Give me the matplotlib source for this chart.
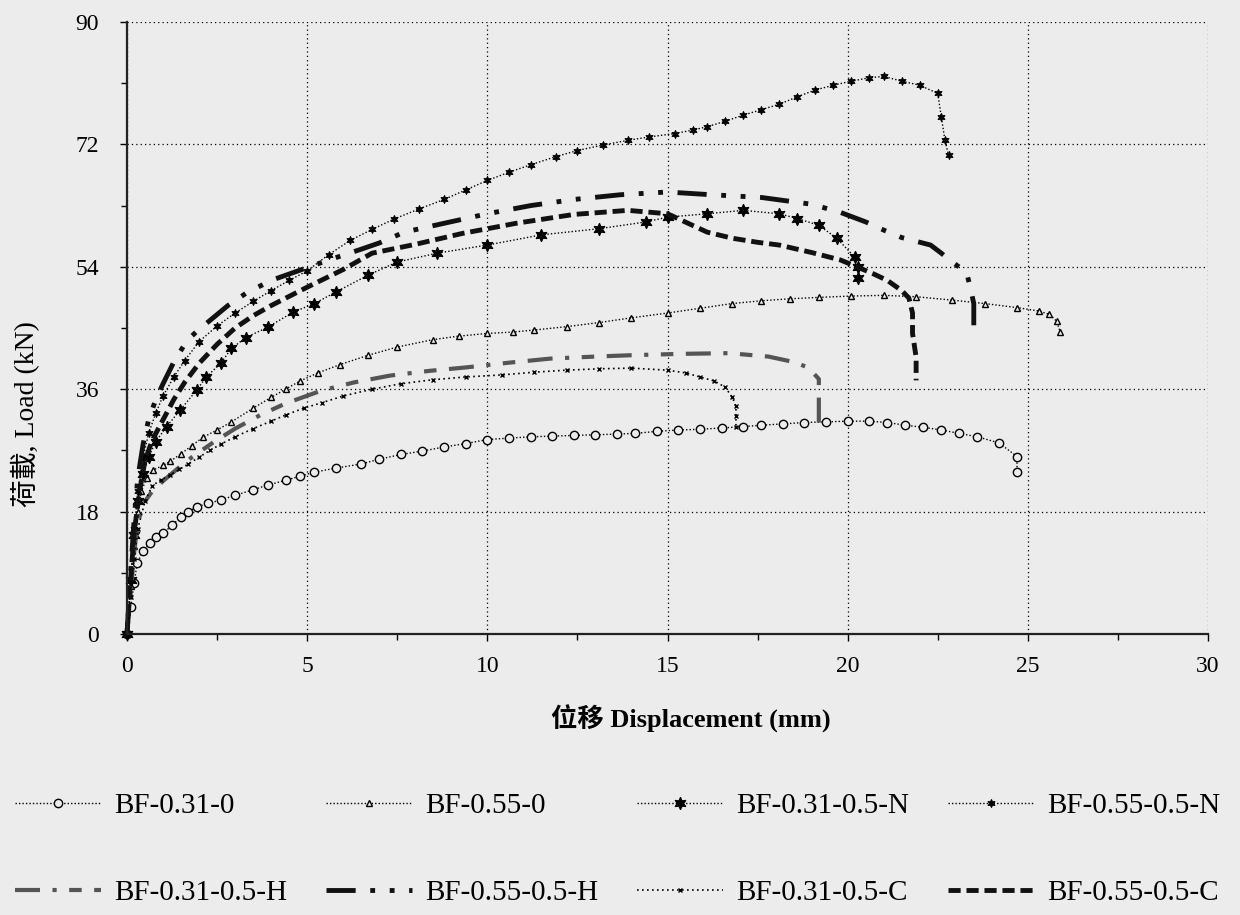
import matplotlib
matplotlib.use("Agg")
import matplotlib.pyplot as plt
from matplotlib.ticker import MultipleLocator

# ---------------- data ----------------
x_031_0 = [0, 0.1, 0.2, 0.28, 0.45, 0.64, 0.8, 1.0, 1.25, 1.5, 1.7, 1.94, 2.25, 2.6, 3.0, 3.5, 3.9, 4.4, 4.8,
           5.2, 5.8, 6.5, 7.0, 7.6, 8.2, 8.8, 9.4, 10.0, 10.6, 11.2, 11.8, 12.4, 13.0, 13.6, 14.1, 14.7, 15.3,
           15.9, 16.5, 17.1, 17.6, 18.2, 18.8, 19.4, 20.0, 20.6, 21.1, 21.6, 22.1, 22.6, 23.1, 23.6, 24.2, 24.7, 24.7]
y_031_0 = [0, 4, 7.5, 10.4, 12.2, 13.4, 14.2, 14.8, 16.0, 17.2, 18.0, 18.7, 19.2, 19.7, 20.4, 21.2, 21.9, 22.6, 23.2,
           23.8, 24.4, 25.0, 25.7, 26.4, 26.9, 27.5, 28.0, 28.6, 28.8, 29.0, 29.1, 29.2, 29.3, 29.4, 29.5, 29.8, 30.0,
           30.1, 30.3, 30.5, 30.7, 30.9, 31.1, 31.2, 31.3, 31.3, 31.1, 30.7, 30.4, 30.0, 29.5, 29.0, 28.1, 26.1, 23.8]

x_055_0 = [0, 0.1, 0.2, 0.3, 0.4, 0.55, 0.72, 1.0, 1.2, 1.5, 1.8, 2.1, 2.5, 2.9, 3.5, 4.0, 4.4, 4.8, 5.3, 5.9,
           6.7, 7.5, 8.5, 9.2, 10.0, 10.7, 11.3, 12.2, 13.1, 14.0, 15.0, 15.9, 16.8, 17.6, 18.4, 19.2, 20.1, 21.0,
           21.9, 22.9, 23.8, 24.7, 25.3, 25.6, 25.8, 25.9]
y_055_0 = [0, 7, 13, 18, 21, 23, 24.1, 24.8, 25.4, 26.5, 27.7, 28.9, 30.0, 31.2, 33.2, 34.8, 36.0, 37.2, 38.4, 39.6,
           41.0, 42.2, 43.3, 43.8, 44.2, 44.4, 44.7, 45.2, 45.8, 46.5, 47.2, 47.9, 48.6, 49.0, 49.3, 49.5, 49.7, 49.8,
           49.6, 49.1, 48.6, 48.0, 47.5, 47.0, 46.0, 44.4]

x_031_N = [0, 0.1, 0.2, 0.3, 0.45, 0.6, 0.8, 1.1, 1.47, 1.94, 2.2, 2.6, 2.9, 3.3, 3.9, 4.6, 5.2, 5.8, 6.7, 7.5,
           8.6, 10.0, 11.5, 13.1, 14.4, 15.0, 16.1, 17.1, 18.1, 18.6, 19.2, 19.7, 20.2, 20.3, 20.3]
y_031_N = [0, 8, 14.5, 19.5, 23.5, 26, 28.3, 30.5, 32.9, 35.9, 37.8, 39.8, 42.0, 43.6, 45.1, 47.3, 48.6, 50.3, 52.8,
           54.7, 56.0, 57.2, 58.7, 59.6, 60.6, 61.3, 61.8, 62.3, 61.8, 61.1, 60.1, 58.2, 55.4, 53.9, 52.3]

x_055_N = [0, 0.1, 0.2, 0.3, 0.45, 0.6, 0.8, 1.0, 1.3, 1.6, 2.0, 2.5, 3.0, 3.5, 4.0, 4.5, 5.0, 5.6, 6.2, 6.8,
           7.4, 8.1, 8.8, 9.4, 10.0, 10.6, 11.2, 11.9, 12.5, 13.2, 13.9, 14.5, 15.2, 15.7, 16.1, 16.6, 17.1, 17.6,
           18.1, 18.6, 19.1, 19.6, 20.1, 20.6, 21.0, 21.5, 22.0, 22.5, 22.6, 22.7, 22.8]
y_055_N = [0, 8, 15.5, 21, 26, 29.5, 32.5, 35, 37.8, 40.2, 43.0, 45.3, 47.2, 48.9, 50.5, 52.0, 53.4, 55.8, 57.9, 59.5,
           61.0, 62.5, 63.9, 65.3, 66.7, 67.9, 69.0, 70.2, 71.1, 71.9, 72.6, 73.1, 73.6, 74.1, 74.6, 75.4, 76.3, 77.1,
           77.9, 79.0, 80.0, 80.7, 81.3, 81.8, 82.0, 81.3, 80.7, 79.5, 76.0, 72.6, 70.4]

x_031_H = [0, 0.1, 0.2, 0.3, 0.5, 0.7, 1.0, 1.4, 1.8, 2.4, 3.0, 3.7, 4.4, 5.4, 6.3, 7.3, 8.4, 9.4, 10.6, 11.75,
           13.0, 14.0, 15.4, 16.7, 17.8, 18.5, 18.9, 19.2, 19.2, 19.2]
y_031_H = [0, 6, 12, 16.5, 19.5, 21, 22.5, 24.3, 26, 28.2, 30.2, 32.2, 33.9, 35.8, 37.0, 38.0, 38.7, 39.2, 39.9, 40.5,
           40.8, 41.0, 41.2, 41.3, 40.8, 40.0, 39.2, 37.5, 34.7, 29.5]

x_055_H = [0, 0.1, 0.2, 0.3, 0.45, 0.6, 0.8, 1.0, 1.3, 1.67, 2.0, 2.3, 2.8, 3.3, 4.0, 4.8, 5.6, 6.45, 7.0, 7.7,
           8.8, 10.0, 11.2, 12.4, 13.7, 15.0, 16.2, 17.6, 19.0, 19.8, 20.5, 21.0, 21.5, 22.3, 22.6, 22.9, 23.3, 23.4,
           23.5, 23.5]
y_055_H = [0, 9, 17, 23, 28, 31.5, 34.5, 36.8, 40, 43.2, 44.8, 46.1, 48.3, 50.1, 52, 53.5, 55.0, 56.5, 57.5, 59.1,
           60.4, 61.8, 63.0, 63.9, 64.6, 65.0, 64.6, 64.2, 63.2, 62.0, 60.6, 59.4, 58.3, 57.2, 56.0, 54.7, 53.2, 51,
           48.6, 45.4]

x_031_C = [0, 0.1, 0.2, 0.3, 0.5, 0.7, 0.95, 1.2, 1.45, 1.7, 2.0, 2.3, 2.6, 3.0, 3.5, 4.0, 4.4, 4.9, 5.4, 6.0,
           6.8, 7.6, 8.5, 9.4, 10.4, 11.3, 12.2, 13.1, 14.0, 15.0, 15.5, 15.9, 16.3, 16.6, 16.8, 16.9, 16.9, 16.9]
y_031_C = [0, 5.5, 11, 15.5, 19.5, 21.8, 22.7, 23.4, 24.2, 25.0, 26.0, 27.0, 27.9, 29.0, 30.2, 31.3, 32.2, 33.2,
           34.0, 35.0, 36.0, 36.8, 37.4, 37.8, 38.1, 38.5, 38.8, 39.0, 39.1, 38.8, 38.4, 37.8, 37.2, 36.3, 34.8, 33.5,
           32.0, 30.5]

x_055_C = [0, 0.1, 0.2, 0.35, 0.5, 0.7, 1.0, 1.3, 1.6, 2.0, 2.5, 3.0, 3.5, 4.0, 5.0, 6.0, 6.8, 8.0, 9.3, 10.8,
           12.4, 13.9, 15.0, 16.1, 16.8, 17.5, 18.1, 19.0, 19.8, 20.3, 20.7, 21.1, 21.5, 21.7, 21.8, 21.8, 21.9, 21.9]
y_055_C = [0, 8, 15, 21, 25.5, 28.5, 31.5, 34.5, 37, 39.8, 42.6, 45.0, 46.8, 48.3, 51.0, 53.6, 56.0, 57.3, 58.9,
           60.4, 61.7, 62.3, 61.8, 59.1, 58.2, 57.6, 57.2, 56.1, 55.0, 53.9, 53.0, 52.0, 50.5, 49.4, 47.2, 44.2,
           40.7, 37.3]

series_labels = ["BF-0.31-0", "BF-0.55-0", "BF-0.31-0.5-N", "BF-0.55-0.5-N",
                 "BF-0.31-0.5-H", "BF-0.55-0.5-H", "BF-0.31-0.5-C", "BF-0.55-0.5-C"]
x_ticks = [0, 5, 10, 15, 20, 25, 30]
y_ticks = [0, 18, 36, 54, 72, 90]
x_label = "位移 Displacement (mm)"
y_label = "荷載, Load (kN)"

# ---------------- styling ----------------
BG = "#ececec"
FONT = ["Liberation Serif", "Noto Sans CJK TC", "DejaVu Sans"]
plt.rcParams["font.family"] = FONT
FS_TICK = 17
FS_LAB = 20
FS_LEG = 21

fig = plt.figure(figsize=(12.4, 9.15), dpi=100, facecolor=BG)
ax = fig.add_axes([127 / 1240, 1 - 634 / 915, (1208 - 127) / 1240, (634 - 22) / 915])
ax.set_facecolor(BG)

styles = [
    dict(x=x_031_0, y=y_031_0, ls=(0, (1, 1.5)), lw=1.0, marker="o", ms=6, mfc=BG, mec="black", mew=1.0),
    dict(x=x_055_0, y=y_055_0, ls=(0, (1, 1.5)), lw=1.0, marker="^", ms=4.5, mfc=BG, mec="black", mew=1.0),
    dict(x=x_031_N, y=y_031_N, ls=(0, (1, 1.5)), lw=1.0, marker=(6, 1, 0), ms=9, mfc="black", mec="black", mew=0.8),
    dict(x=x_055_N, y=y_055_N, ls=(0, (1, 1.5)), lw=1.0, marker=(6, 1, 0), ms=6, mfc="black", mec="black", mew=0.6),
    dict(x=x_031_H, y=y_031_H, ls=(0, (6, 3, 1, 3, 3, 3)), lw=3.0, marker=None, color="#555555"),
    dict(x=x_055_H, y=y_055_H, ls=(0, (6, 3, 1, 3, 1, 3)), lw=3.5, marker=None, color="#111111"),
    dict(x=x_031_C, y=y_031_C, ls=(0, (1, 2)), lw=1.2, marker="x", ms=3.5, mfc="black", mec="black", mew=1.0),
    dict(x=x_055_C, y=y_055_C, ls=(0, (2.5, 1.2)), lw=3.5, marker=None, color="#111111"),
]

handles = []
for lab, st in zip(series_labels, styles):
    kw = dict(linestyle=st["ls"], linewidth=st["lw"], color=st.get("color", "black"))
    if st["marker"] is not None:
        kw.update(marker=st["marker"], markersize=st["ms"], markerfacecolor=st["mfc"],
                  markeredgecolor=st["mec"], markeredgewidth=st["mew"])
    (ln,) = ax.plot(st["x"], st["y"], label=lab, clip_on=False, **kw)
    handles.append(ln)

ax.set_xlim(0, 30)
ax.set_ylim(0, 90)
ax.set_xticks(x_ticks)
ax.set_yticks(y_ticks)
ax.xaxis.set_minor_locator(MultipleLocator(2.5))
ax.yaxis.set_minor_locator(MultipleLocator(9))
ax.tick_params(which="both", direction="out", colors="black", labelsize=FS_TICK)
ax.tick_params(which="major", length=5, width=1)
ax.tick_params(axis="x", which="major", pad=11)
ax.tick_params(axis="y", which="major", pad=15)
ax.tick_params(which="minor", length=4, width=1)
ax.grid(which="major", linestyle=(0, (1, 2.5)), color="black", linewidth=0.9)
for side in ("top", "right"):
    ax.spines[side].set_visible(False)
for side in ("left", "bottom"):
    ax.spines[side].set_linewidth(1.6)
    ax.spines[side].set_color("#222222")

ax.set_xlabel(x_label, fontsize=FS_LAB - 1, fontweight="bold")
ax.xaxis.set_label_coords(0.522, -0.115)
ax.set_ylabel(y_label, fontsize=FS_LAB)
ax.yaxis.set_label_coords(-0.08, 0.36)

# ---------------- legend: 4-column grid like the reference ----------------
col_px = [15, 326, 637, 948]
row_py = [806, 893]
for i, (h, lab) in enumerate(zip(handles, series_labels)):
    px = col_px[i % 4]
    py = row_py[i // 4]
    fig.legend([h], [lab], loc="center left", bbox_to_anchor=(px / 1240, 1 - py / 915),
               frameon=False, borderpad=0, borderaxespad=0, handlelength=2.95,
               handletextpad=0.45, numpoints=1, fontsize=FS_LEG)

fig.savefig("out.png", dpi=100, facecolor=BG)
